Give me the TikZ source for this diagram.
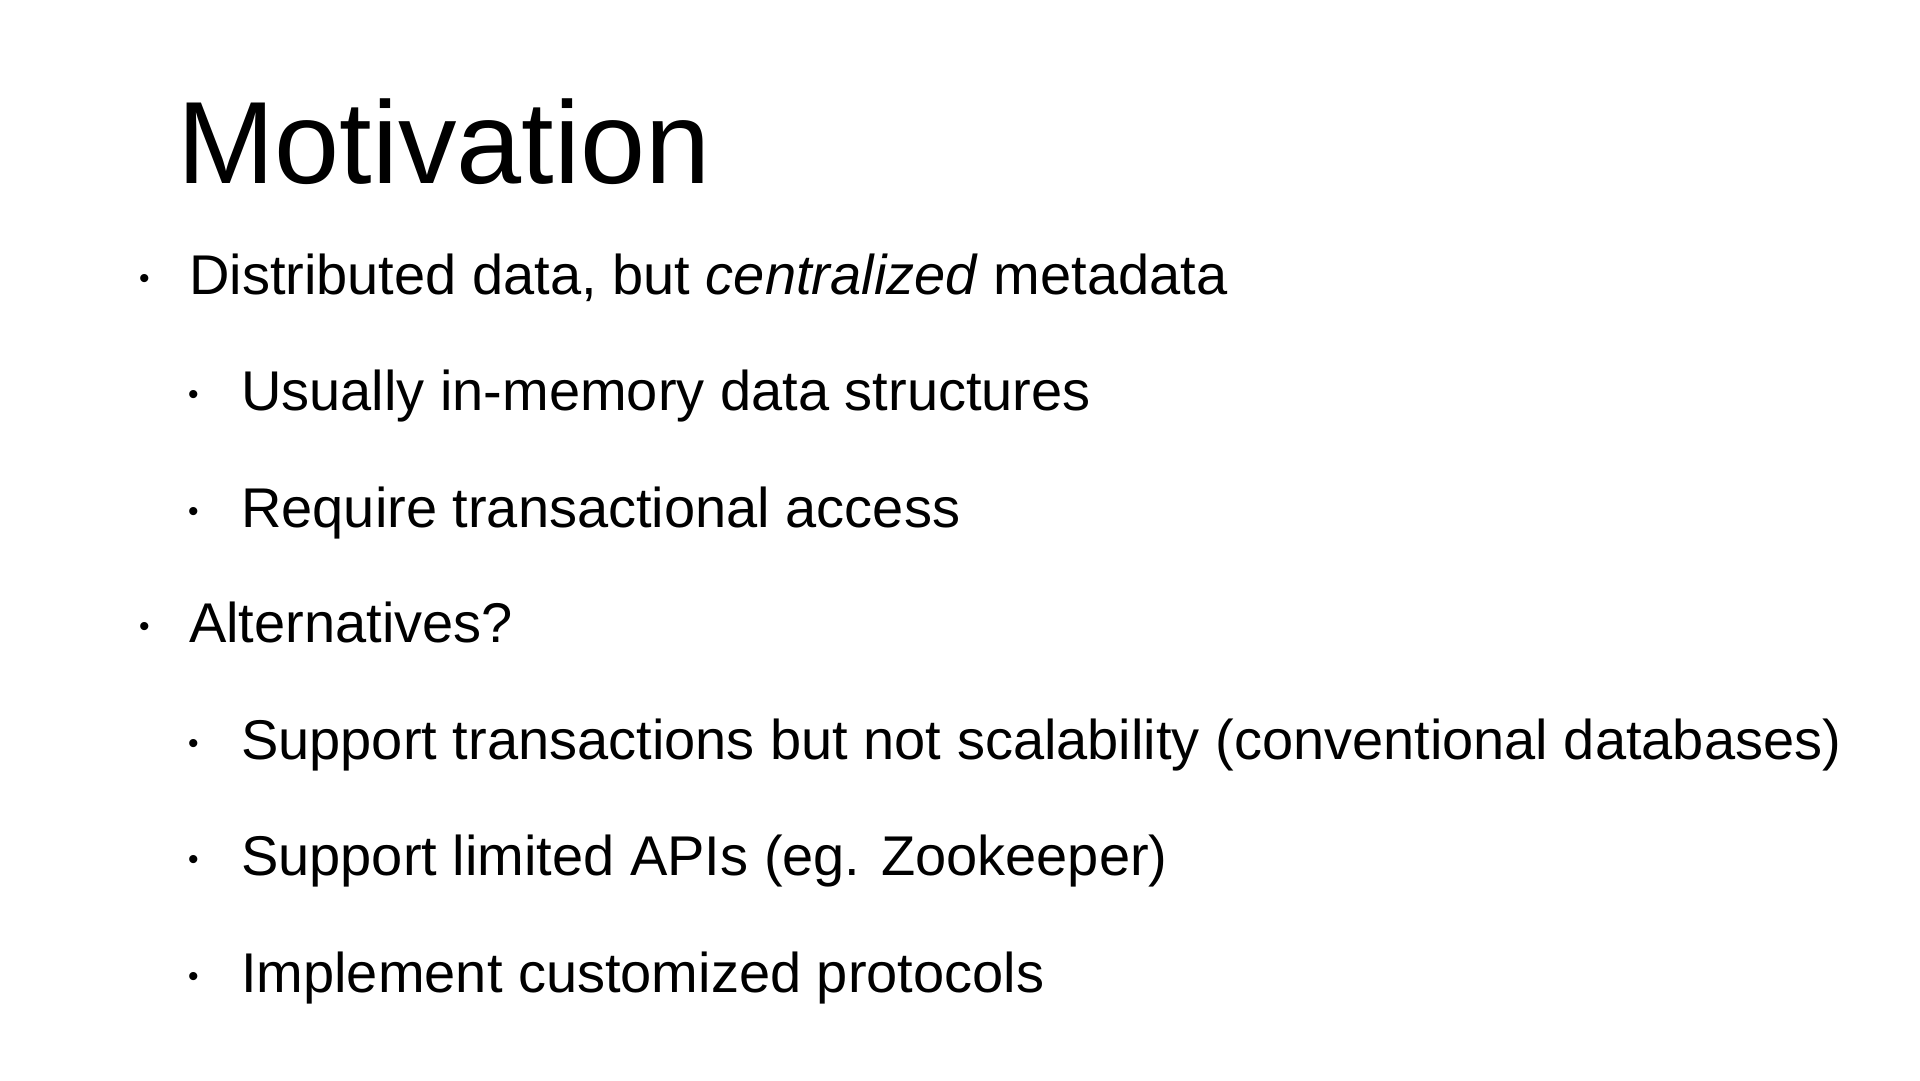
\documentclass[tikz,border=0pt]{standalone}
\usepackage{fontspec}
\setmainfont{Liberation Sans}
\begin{document}
\begin{tikzpicture}[x=1pt,y=-1pt,
  title/.style={anchor=base west,inner sep=0pt,font=\fontsize{117}{120}\selectfont},
  item/.style={anchor=base west,inner sep=0pt,font=\fontsize{56}{60}\selectfont},
  dot/.style={anchor=base west,inner sep=0pt,font=\fontsize{30}{32}\selectfont}]
\useasboundingbox[fill=white] (0,0) rectangle (1920,1080);
\node[title] (t) at (177,183) {Motivation};
\node[dot] (b1) at (139,288) {•};
\node[item] (i1) at (189,294) {Distributed data, but \textit{centralized} metadata};
\node[dot] (b2) at (188,404) {•};
\node[item] (i2) at (241,410) {Usually in-memory data structures};
\node[dot] (b3) at (188,521) {•};
\node[item] (i3) at (241,527) {Require transactional access};
\node[dot] (b4) at (139,636) {•};
\node[item] (i4) at (189,642) {Alternatives?};
\node[dot] (b5) at (188,753) {•};
\node[item] (i5) at (241,759) {Support transactions but not scalability (conventional databases)};
\node[dot] (b6) at (188,869) {•};
\node[item] (i6) at (241,875) {Support limited APIs (eg. Zookeeper)};
\node[dot] (b7) at (188,986) {•};
\node[item] (i7) at (241,992) {Implement customized protocols};
\end{tikzpicture}
\end{document}
